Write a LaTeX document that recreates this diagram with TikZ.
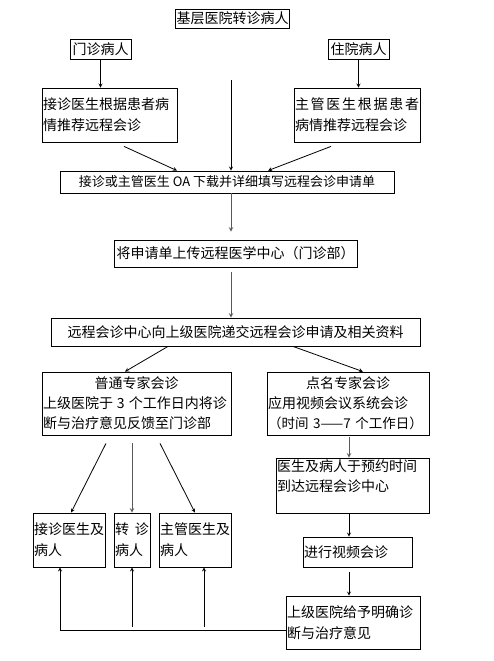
\documentclass[tikz,border=0pt]{standalone}
\usepackage{fontspec}
\setmainfont{Noto Sans CJK SC}
\usetikzlibrary{calc}

\begin{document}
\begin{tikzpicture}[x=1pt,y=-1pt,
  box/.style={draw,line width=0.8pt,inner sep=1pt,font=\fontsize{14}{21}\selectfont},
  arr/.style={line width=0.8pt,-stealth},
  arrg/.style={line width=1pt,gray!70!black,-stealth}]
  \useasboundingbox (0,0) rectangle (493,661);
  \node[box,minimum width=113pt,minimum height=19pt] (top) at (232.5,18.5) {基层医院转诊病人};
  \node[box,minimum width=61pt,minimum height=20pt] (mz) at (100.5,49) {门诊病人};
  \node[box,minimum width=61pt,minimum height=20pt] (zy) at (358.5,49) {住院病人};
  \node[box,align=left,text width=133pt,minimum height=54pt] (jz) at (109.5,115) {接诊医生根据患者病\\情推荐远程会诊};
  \node[box,align=left,text width=124pt,minimum height=54pt] (zg) at (357,115) {主\hfill 管\hfill 医\hfill 生\hfill 根\hfill 据\hfill 患\hfill 者\\病情推荐远程会诊};
  \node[box,minimum width=334pt,minimum height=22pt,font=\fontsize{13}{16}\selectfont] (oa) at (227,182) {接诊或主管医生 OA 下载并详细填写远程会诊申请单};
  \node[box,minimum width=243pt,minimum height=27pt] (upload) at (235.5,253.5) {将申请单上传远程医学中心（门诊部）};
  \node[box,minimum width=369pt,minimum height=28pt] (submit) at (235.5,332) {远程会诊中心向上级医院递交远程会诊申请及相关资料};
  \node[box,align=left,text width=187pt,minimum height=63pt,font=\fontsize{14}{20}\selectfont] (pt) at (136.5,403.5) {\hfill 普通专家会诊\hfill\null\\\mbox{上级医院于\hspace{4pt}3\hspace{4pt}个工作日内将诊}\\断与治疗意见反馈至门诊部};
  \node[box,align=left,text width=160pt,minimum height=63pt,font=\fontsize{14}{20}\selectfont] (dm) at (348,403.5) {\hfill 点名专家会诊\hfill\null\\应用视频会议系统会诊\\\mbox{\fontsize{13.5}{20}\selectfont（时间 3——7 个工作日）}};
  \node[box,align=left,text width=151pt,minimum height=55pt,font=\fontsize{14}{20}\selectfont] (arrive) at (352.5,485.5) {医生及病人于预约时间\\到达远程会诊中心\\\mbox{}};
  \node[box,align=left,text width=107pt,minimum height=30pt] (video) at (357.5,552) {进行视频会诊};
  \node[box,align=left,text width=132pt,minimum height=53pt] (result) at (353,622.5) {上级医院给予明确诊\\断与治疗意见};
  \node[box,align=left,text width=70pt,minimum height=54pt] (b1) at (69,540) {接诊医生及\\病人};
  \node[box,align=left,text width=34pt,minimum height=54pt] (b2) at (132,540) {转\hfill 诊\\病人};
  \node[box,align=left,text width=70pt,minimum height=54pt] (b3) at (195,540) {主管医生及\\病人};
  \coordinate (c) at (231,80);
  \coordinate (r) at (349,0);
  \coordinate (ret) at (60,630);
  \draw[arr] (mz.south) -- (mz.south |- jz.north);
  \draw[arr] (zy.south) -- (zy.south |- zg.north);
  \draw[arr] (c) -- (c |- oa.north);
  \draw[arr] ($(jz.south)+(14.5,4)$) -- ($(oa.north)+(-50,0)$);
  \draw[arr] ($(zg.south)+(-26,4)$) -- ($(oa.north)+(41,0)$);
  \draw[arrg] (oa.south -| c) -- ($(upload.north -| c)+(0,-8)$);
  \draw[arrg] ($(upload.south -| c)+(0,5)$) -- (submit.north -| c);
  \draw[arr] ($(submit.south)+(-67.5,0)$) -- ($(pt.north)+(-11.5,0)$);
  \draw[arr] ($(submit.south)+(57.5,0)$) -- ($(dm.north)+(15,0)$);
  \draw[arrg] ($(dm.south -| r)+(0,2)$) -- (arrive.north -| r);
  \draw[arr] (arrive.south -| r) -- (video.north -| r);
  \draw[arr] ($(video.south -| r)+(0,5)$) -- (result.north -| r);
  \draw[arr] ($(pt.south)+(-30.5,8)$) -- ($(b1.north)+(2,0)$);
  \draw[arrg] ($(pt.south -| b2)+(0,8)$) -- (b2.north);
  \draw[arr] ($(pt.south)+(23.5,8)$) -- (b3.north);
  \draw[arr] (ret -| result.west) -- (ret) -- (ret |- b1.south);
  \draw[arr] ($(ret -| b2)+(0,-3)$) -- (b2.south);
  \draw[arr] ($(ret)+(144,-3)$) -- ($(b3.south)+(9,0)$);
\end{tikzpicture}
\end{document}
